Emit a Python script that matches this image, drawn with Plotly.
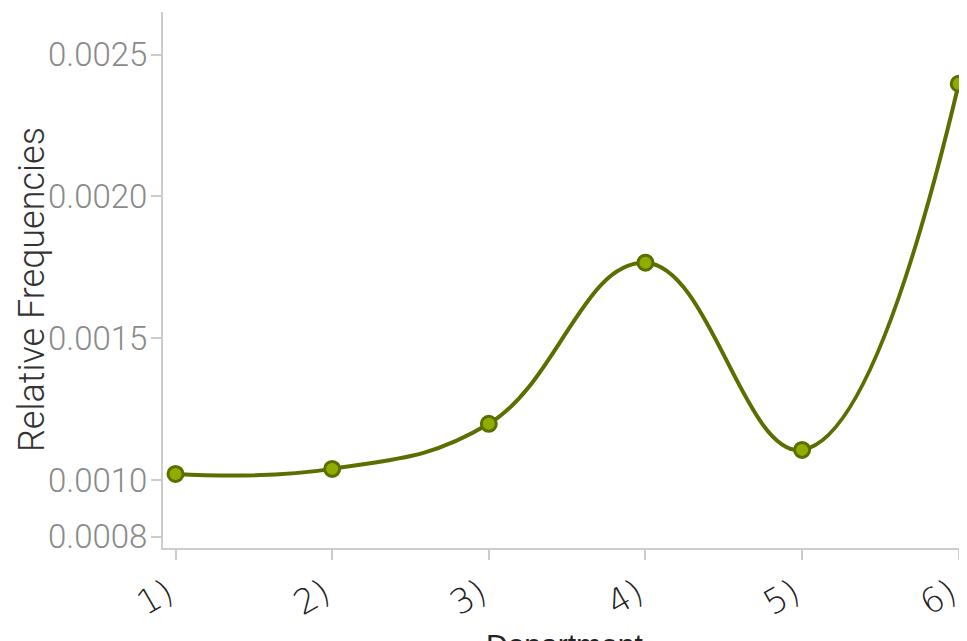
import plotly.graph_objects as go

categories = ["1)", "2)", "3)", "4)", "5)", "6)"]
values = [0.001021, 0.001039, 0.001198, 0.001766, 0.001106, 0.002397]
y_ticks = [0.0008, 0.0010, 0.0015, 0.0020, 0.0025]
y_tick_labels = ["0.0008", "0.0010", "0.0015", "0.0020", "0.0025"]
x_title = "Department"
y_title = "Relative Frequencies"

x_pos = list(range(len(categories)))

fig = go.Figure()
fig.add_trace(go.Scatter(
    x=x_pos, y=values, mode="lines+markers",
    line=dict(color="#5b6e00", width=4, shape="spline", smoothing=1.2),
    marker=dict(size=15, color="#8fad00", line=dict(color="#5b6e00", width=3)),
    showlegend=False, hoverinfo="skip", cliponaxis=False,
))

# page body adds an 8px offset; figure sized to fit the window
fig.update_layout(
    width=959, height=633,
    margin=dict(l=155, r=2, t=4, b=93),
    paper_bgcolor="white", plot_bgcolor="white",
    xaxis=dict(
        range=[-0.08, 5.04], tickvals=x_pos, ticktext=categories, automargin=False,
        showgrid=False, zeroline=False, showline=True, linecolor="#cccccc", linewidth=2,
        ticks="outside", ticklen=10, tickcolor="#cccccc", tickwidth=2,
        tickangle=-30, ticklabelshift=-8, ticklabeloverflow="allow",
        tickfont=dict(family="DejaVu Sans", size=34, color="#222222", weight=200),
    ),
    yaxis=dict(
        range=[0.00076, 0.00265], tickvals=y_ticks, ticktext=y_tick_labels, automargin=False,
        showgrid=False, zeroline=False, showline=True, linecolor="#cccccc", linewidth=2,
        ticks="outside", ticklen=10, tickcolor="#cccccc", tickwidth=2, ticklabelstandoff=-3,
        ticklabeloverflow="allow",
        tickfont=dict(family="Roboto", size=33, color="#8a8a8a", weight=300),
    ),
    annotations=[
        dict(text=x_title, xref="paper", yref="paper", x=0.5, y=-0.146,
             xanchor="center", yanchor="top", showarrow=False,
             font=dict(family="Liberation Sans", size=30, color="#222222")),
        dict(text=y_title, xref="paper", yref="paper", x=-0.1633, y=0.4813,
             xanchor="center", yanchor="middle", textangle=-90, showarrow=False,
             font=dict(family="Roboto", size=36, color="#333333", weight=300)),
    ],
)

fig.write_html("out.html")
